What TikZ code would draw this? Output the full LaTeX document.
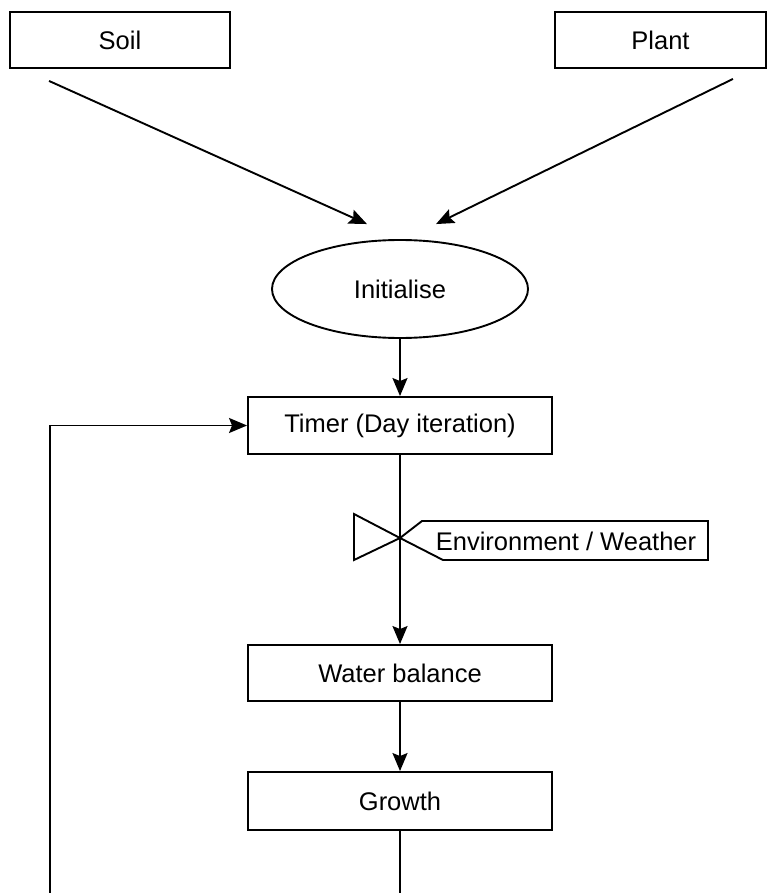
\documentclass[tikz,border=0pt]{standalone}
\usepackage{fontspec}
\setmainfont{Liberation Sans}
\usetikzlibrary{arrows.meta,shapes.geometric}
\begin{document}
\begin{tikzpicture}[x=1pt,y=-1pt,line width=1.9pt,
  txt/.style={font=\fontsize{25.5pt}{30pt}\selectfont,inner sep=0pt},
  box/.style={txt,draw,rectangle,minimum height=56pt},
  oval/.style={txt,draw,ellipse,minimum width=256pt,minimum height=98pt},
  arr/.style={-{Stealth[length=18pt,width=15pt,inset=3pt]}}]
\useasboundingbox (0,0) rectangle (768,893);
\node[box,minimum width=220pt] (soil) at (120,40) {Soil};
\node[box,minimum width=211pt] (plant) at (660.5,40) {Plant};
\node[oval] (ini) at (400,289) {Initialise};
\node[box,minimum width=304pt,minimum height=57pt] (timer) at (400,425.5) {Timer (Day iteration)};
\node[box,minimum width=304pt] (water) at (400,673) {Water balance};
\node[box,minimum width=304pt,minimum height=58pt] (growth) at (400,801) {Growth};
\node[txt] (env) at (566,541) {Environment / Weather};
\coordinate (v) at (400,538);
\coordinate (fb) at (50,893);
% input arrows
\draw[arr] ([xshift=40pt,yshift=-12pt]soil.south west) -- ([xshift=-33pt,yshift=15pt]ini.north);
\draw[arr] ([xshift=-34pt,yshift=-10pt]plant.south east) -- ([xshift=36pt,yshift=15pt]ini.north);
% main flow
\draw[arr] (ini.south) -- (timer.north);
\draw[arr] (timer.south) -- (water.north);
\draw[arr] (water.south) -- (growth.north);
\draw (growth.south) -- (growth.south |- fb);
\draw[arr] (fb) |- (timer.west);
% valve and label
\draw[line join=miter] (v) -- ++(-46,-24) -- ++(0,46) -- cycle;
\draw[line join=miter] (v) -- (422,521) -- (708,521) -- (708,560) -- (443,560) -- cycle;
\end{tikzpicture}
\end{document}
